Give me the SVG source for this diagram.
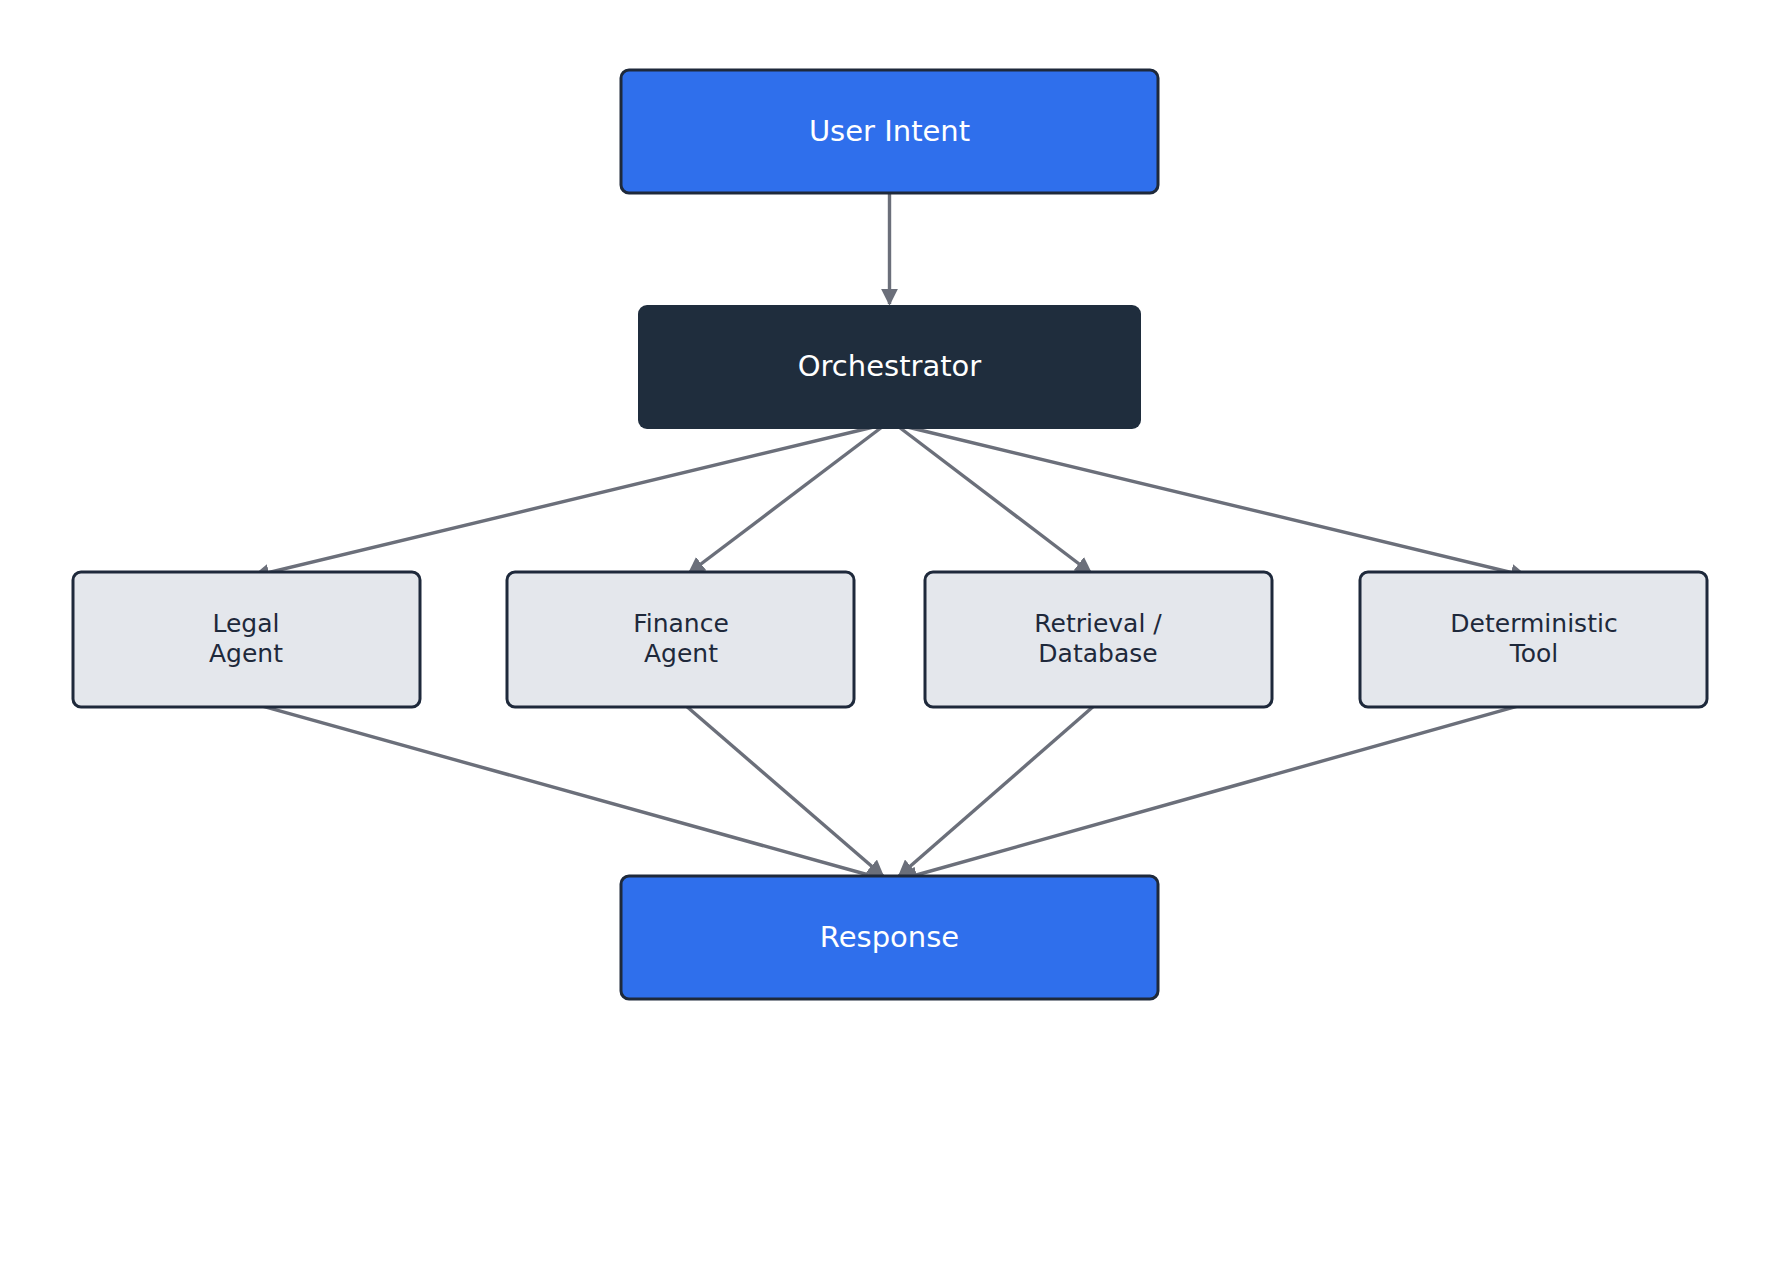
<svg xmlns="http://www.w3.org/2000/svg" width="1779" height="1280" viewBox="0 0 1779 1280">
<style>
.t{font-family:"DejaVu Sans",sans-serif;text-anchor:middle}
.blue{fill:#2f6fec;stroke:#1e293b;stroke-width:3}
.ag{fill:#e4e7ec;stroke:#1e293b;stroke-width:3}
.c{stroke:#6b6f7a;stroke-width:3.4;fill:none;marker-end:url(#a)}
</style>
<defs><marker id="a" viewBox="0 0 10 10" refX="9" refY="5" markerWidth="5" markerHeight="5" orient="auto" markerUnits="strokeWidth"><path d="M0,0L10,5L0,10z" fill="#6b6f7a"/></marker></defs>
<rect width="1779" height="1280" fill="#fff"/>
<g id="connectors">
<line class="c" x1="889.5" y1="193" x2="889.5" y2="304"/>
<line class="c" x1="886" y1="424" x2="254" y2="576"/>
<line class="c" x1="886" y1="424" x2="689" y2="573"/>
<line class="c" x1="895" y1="424" x2="1091" y2="573"/>
<line class="c" x1="895" y1="424" x2="1526" y2="576"/>
<line class="c" x1="251" y1="703" x2="883" y2="879"/>
<line class="c" x1="685" y1="705" x2="883" y2="876"/>
<line class="c" x1="1095" y1="705" x2="899" y2="876"/>
<line class="c" x1="1529" y1="703" x2="902" y2="879"/>
</g>
<g id="user"><rect class="blue" x="621" y="70" width="537" height="123" rx="8"/><text class="t" x="889.5" y="141" font-size="29" fill="#fff">User Intent</text></g>
<g id="orch"><rect x="638" y="305" width="503" height="124" rx="9" fill="#1f2d3d"/><text class="t" x="889.5" y="376" font-size="29" fill="#fff">Orchestrator</text></g>
<g id="legal"><rect class="ag" x="73" y="572" width="347" height="135" rx="8"/><text class="t" x="246" y="632" font-size="25" fill="#1e293b">Legal<tspan x="246" dy="30">Agent</tspan></text></g>
<g id="finance"><rect class="ag" x="507" y="572" width="347" height="135" rx="8"/><text class="t" x="681" y="632" font-size="25" fill="#1e293b">Finance<tspan x="681" dy="30">Agent</tspan></text></g>
<g id="retrieval"><rect class="ag" x="925" y="572" width="347" height="135" rx="8"/><text class="t" x="1098" y="632" font-size="25" fill="#1e293b">Retrieval /<tspan x="1098" dy="30">Database</tspan></text></g>
<g id="tool"><rect class="ag" x="1360" y="572" width="347" height="135" rx="8"/><text class="t" x="1534" y="632" font-size="25" fill="#1e293b">Deterministic<tspan x="1534" dy="30">Tool</tspan></text></g>
<g id="response"><rect class="blue" x="621" y="876" width="537" height="123" rx="8"/><text class="t" x="889.5" y="947" font-size="29" fill="#fff">Response</text></g>
</svg>
